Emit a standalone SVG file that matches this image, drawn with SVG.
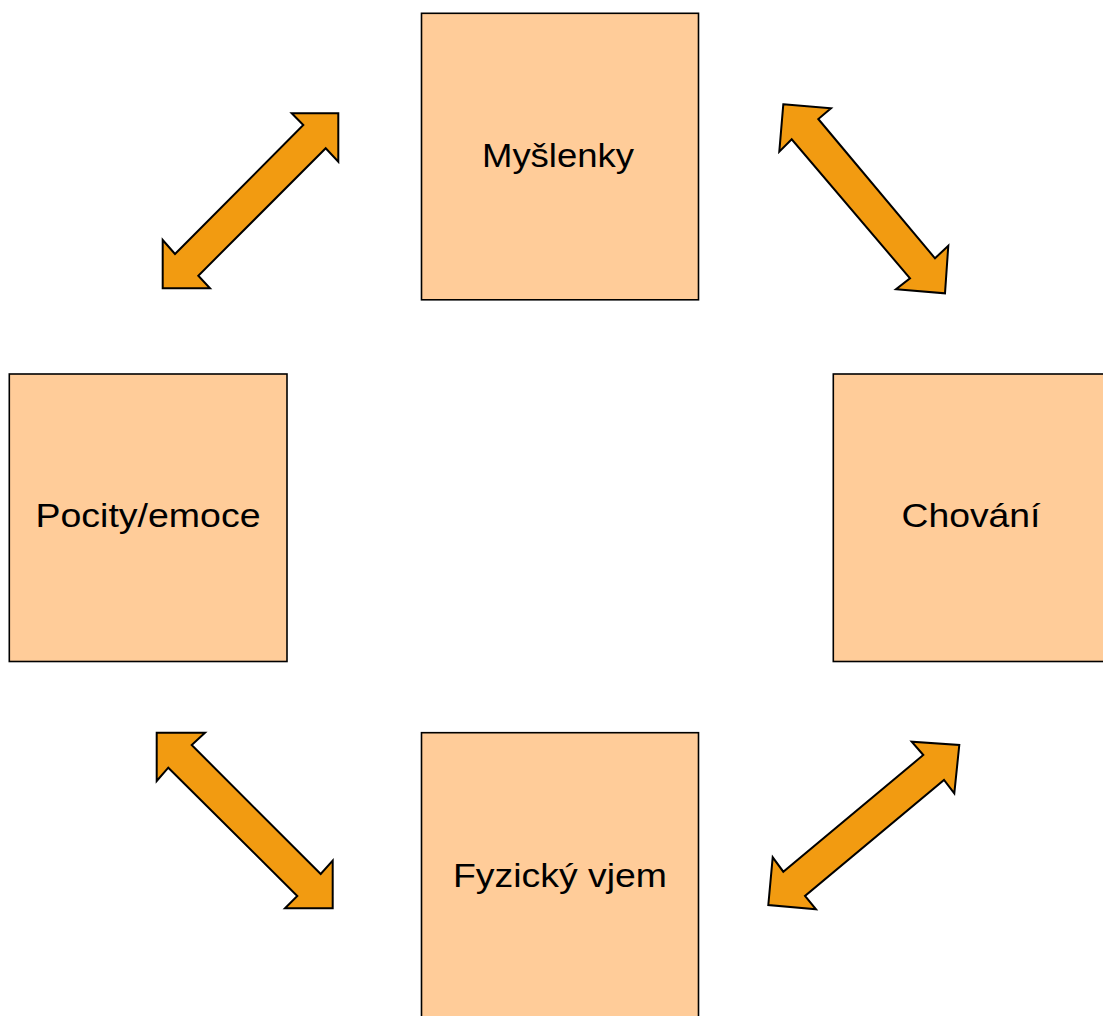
<svg xmlns="http://www.w3.org/2000/svg" width="1103" height="1016" viewBox="0 0 1103 1016">
<style>
.box{fill:#FFCC99;stroke:#000;stroke-width:1.6}
.lbl{font-family:"Liberation Sans",Arial,sans-serif;font-size:33px;fill:#000;text-anchor:middle}
.arr{fill:#F29B11;stroke:#000;stroke-width:2;stroke-linejoin:miter}
</style>
<rect width="1103" height="1016" fill="#fff"/>
<g id="connectors">
<polygon class="arr" points="338.3,113.3 338.3,161.7 325.7,148.3 198.3,275.7 210,288.3 162.7,288.3 162.7,240 175,254 303.3,125 291.7,113.3"/>
<polygon class="arr" points="783.3,104.3 831,108.3 818.3,119 935,258.3 948.3,245.7 945,293.3 896,289.3 910,278.3 791.7,139.3 779.3,151.7"/>
<polygon class="arr" points="156.7,732.7 205,732.7 191.7,745 320.7,874 332.7,860.7 332.7,908.3 285,908.3 297.3,896 168.3,767.7 156.7,781"/>
<polygon class="arr" points="959.3,745 954.3,793.3 944,780 805,896 816,909.3 768.3,905 772.7,857.3 783.3,871.7 923.3,755 911.7,741.7"/>
</g>
<g id="node-myslenky">
<rect class="box" x="421.5" y="13.3" width="277" height="286.5"/>
<text class="lbl" x="558" y="167" textLength="152" lengthAdjust="spacingAndGlyphs">Myšlenky</text>
</g>
<g id="node-pocity">
<rect class="box" x="9.3" y="374" width="277.7" height="287.5"/>
<text class="lbl" x="148" y="527" textLength="225" lengthAdjust="spacingAndGlyphs">Pocity/emoce</text>
</g>
<g id="node-chovani">
<rect class="box" x="833.3" y="374" width="290" height="287.5"/>
<text class="lbl" x="971" y="527" textLength="139" lengthAdjust="spacingAndGlyphs">Chování</text>
</g>
<g id="node-fyzicky">
<rect class="box" x="421.5" y="732.7" width="277" height="300"/>
<text class="lbl" x="560" y="887" textLength="214" lengthAdjust="spacingAndGlyphs">Fyzický vjem</text>
</g>
</svg>
